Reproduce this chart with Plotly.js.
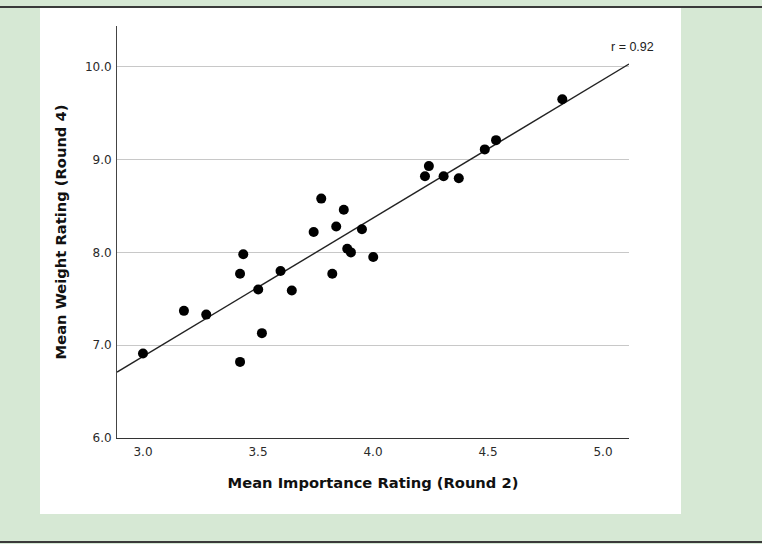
<!DOCTYPE html>
<html>
<head>
<meta charset="utf-8">
<script src="https://cdn.plot.ly/plotly-3.0.1.min.js"></script>
<style>
  html, body { margin: 0; padding: 0; }
  body { width: 762px; height: 544px; background: #d6e8d4; position: relative; overflow: hidden; }
  #topRule { position: absolute; left: 0; top: 6px; width: 762px; height: 2px; background: #3a3a3a; }
  #bottomRule { position: absolute; left: 0; top: 541px; width: 762px; height: 2px; background: #3a3a3a; }
  #chart { position: absolute; left: 40px; top: 8px; width: 641px; height: 506px; background: #ffffff; }
</style>
</head>
<body>
<div id="topRule"></div>
<div id="chart"></div>
<div id="bottomRule"></div>
<script>
// Mean importance (round 2) vs mean weight (round 4), one point per item
const importanceR2 = [3.000, 3.178, 3.275, 3.422, 3.422, 3.436, 3.501, 3.517, 3.598, 3.647,
                      3.742, 3.775, 3.823, 3.840, 3.873, 3.888, 3.904, 3.952, 4.001,
                      4.226, 4.243, 4.307, 4.373, 4.486, 4.535, 4.823];
const weightR4     = [6.91, 7.37, 7.33, 6.82, 7.77, 7.98, 7.60, 7.13, 7.80, 7.59,
                      8.22, 8.58, 7.77, 8.28, 8.46, 8.04, 8.00, 8.25, 7.95,
                      8.82, 8.93, 8.82, 8.80, 9.11, 9.21, 9.65];

// Fitted regression line, drawn edge to edge across the plot
const fitX = [2.887, 5.113];
const fitY = [6.71, 10.03];

const xTicks = [3.0, 3.5, 4.0, 4.5, 5.0];
const xTickText = ['3.0', '3.5', '4.0', '4.5', '5.0'];
const yTicks = [6, 7, 8, 9, 10];
const yTickText = ['6.0', '7.0', '8.0', '9.0', '10.0'];

const corrLabel = 'r = 0.92';

const traces = [
  {
    x: fitX, y: fitY, type: 'scatter', mode: 'lines',
    line: { color: '#222222', width: 1.4 },
    hoverinfo: 'skip', showlegend: false
  },
  {
    x: importanceR2, y: weightR4, type: 'scatter', mode: 'markers',
    marker: { color: '#000000', size: 10, line: { width: 0 } },
    showlegend: false
  }
];

const fontFamily = '"DejaVu Sans", Verdana, sans-serif';

const layout = {
  width: 641, height: 506,
  margin: { l: 77, r: 52, t: 18, b: 76 },
  paper_bgcolor: '#ffffff',
  plot_bgcolor: '#ffffff',
  font: { family: fontFamily, color: '#333333', size: 12 },
  xaxis: {
    range: [2.887, 5.113],
    tickvals: xTicks, ticktext: xTickText,
    showgrid: false, zeroline: false,
    showline: true, linecolor: '#333333', linewidth: 1,
    ticks: '', ticklabelstandoff: 3,
    tickfont: { family: fontFamily, size: 12, color: '#2a2a2a' },
    title: { text: 'Mean Importance Rating (Round 2)', standoff: 19,
             font: { family: fontFamily, size: 14.7, color: '#111111', weight: 'bold' } }
  },
  yaxis: {
    range: [6, 10.44],
    tickvals: yTicks, ticktext: yTickText,
    showgrid: true, gridcolor: '#c8c8c8', gridwidth: 1,
    zeroline: false,
    showline: true, linecolor: '#444444', linewidth: 1,
    ticks: '', ticklabelstandoff: 2,
    tickfont: { family: fontFamily, size: 12, color: '#2a2a2a' },
    title: { text: 'Mean Weight Rating (Round 4)', standoff: 14,
             font: { family: fontFamily, size: 14.7, color: '#111111', weight: 'bold' } }
  },
  annotations: [
    {
      text: corrLabel, xref: 'paper', yref: 'paper',
      x: 1.053, y: 0.949, xanchor: 'right', yanchor: 'middle',
      showarrow: false,
      font: { family: '"Liberation Sans", Arial, sans-serif', size: 12.5, color: '#222222' }
    }
  ]
};

Plotly.newPlot('chart', traces, layout, { displayModeBar: false, staticPlot: true });
</script>
</body>
</html>
